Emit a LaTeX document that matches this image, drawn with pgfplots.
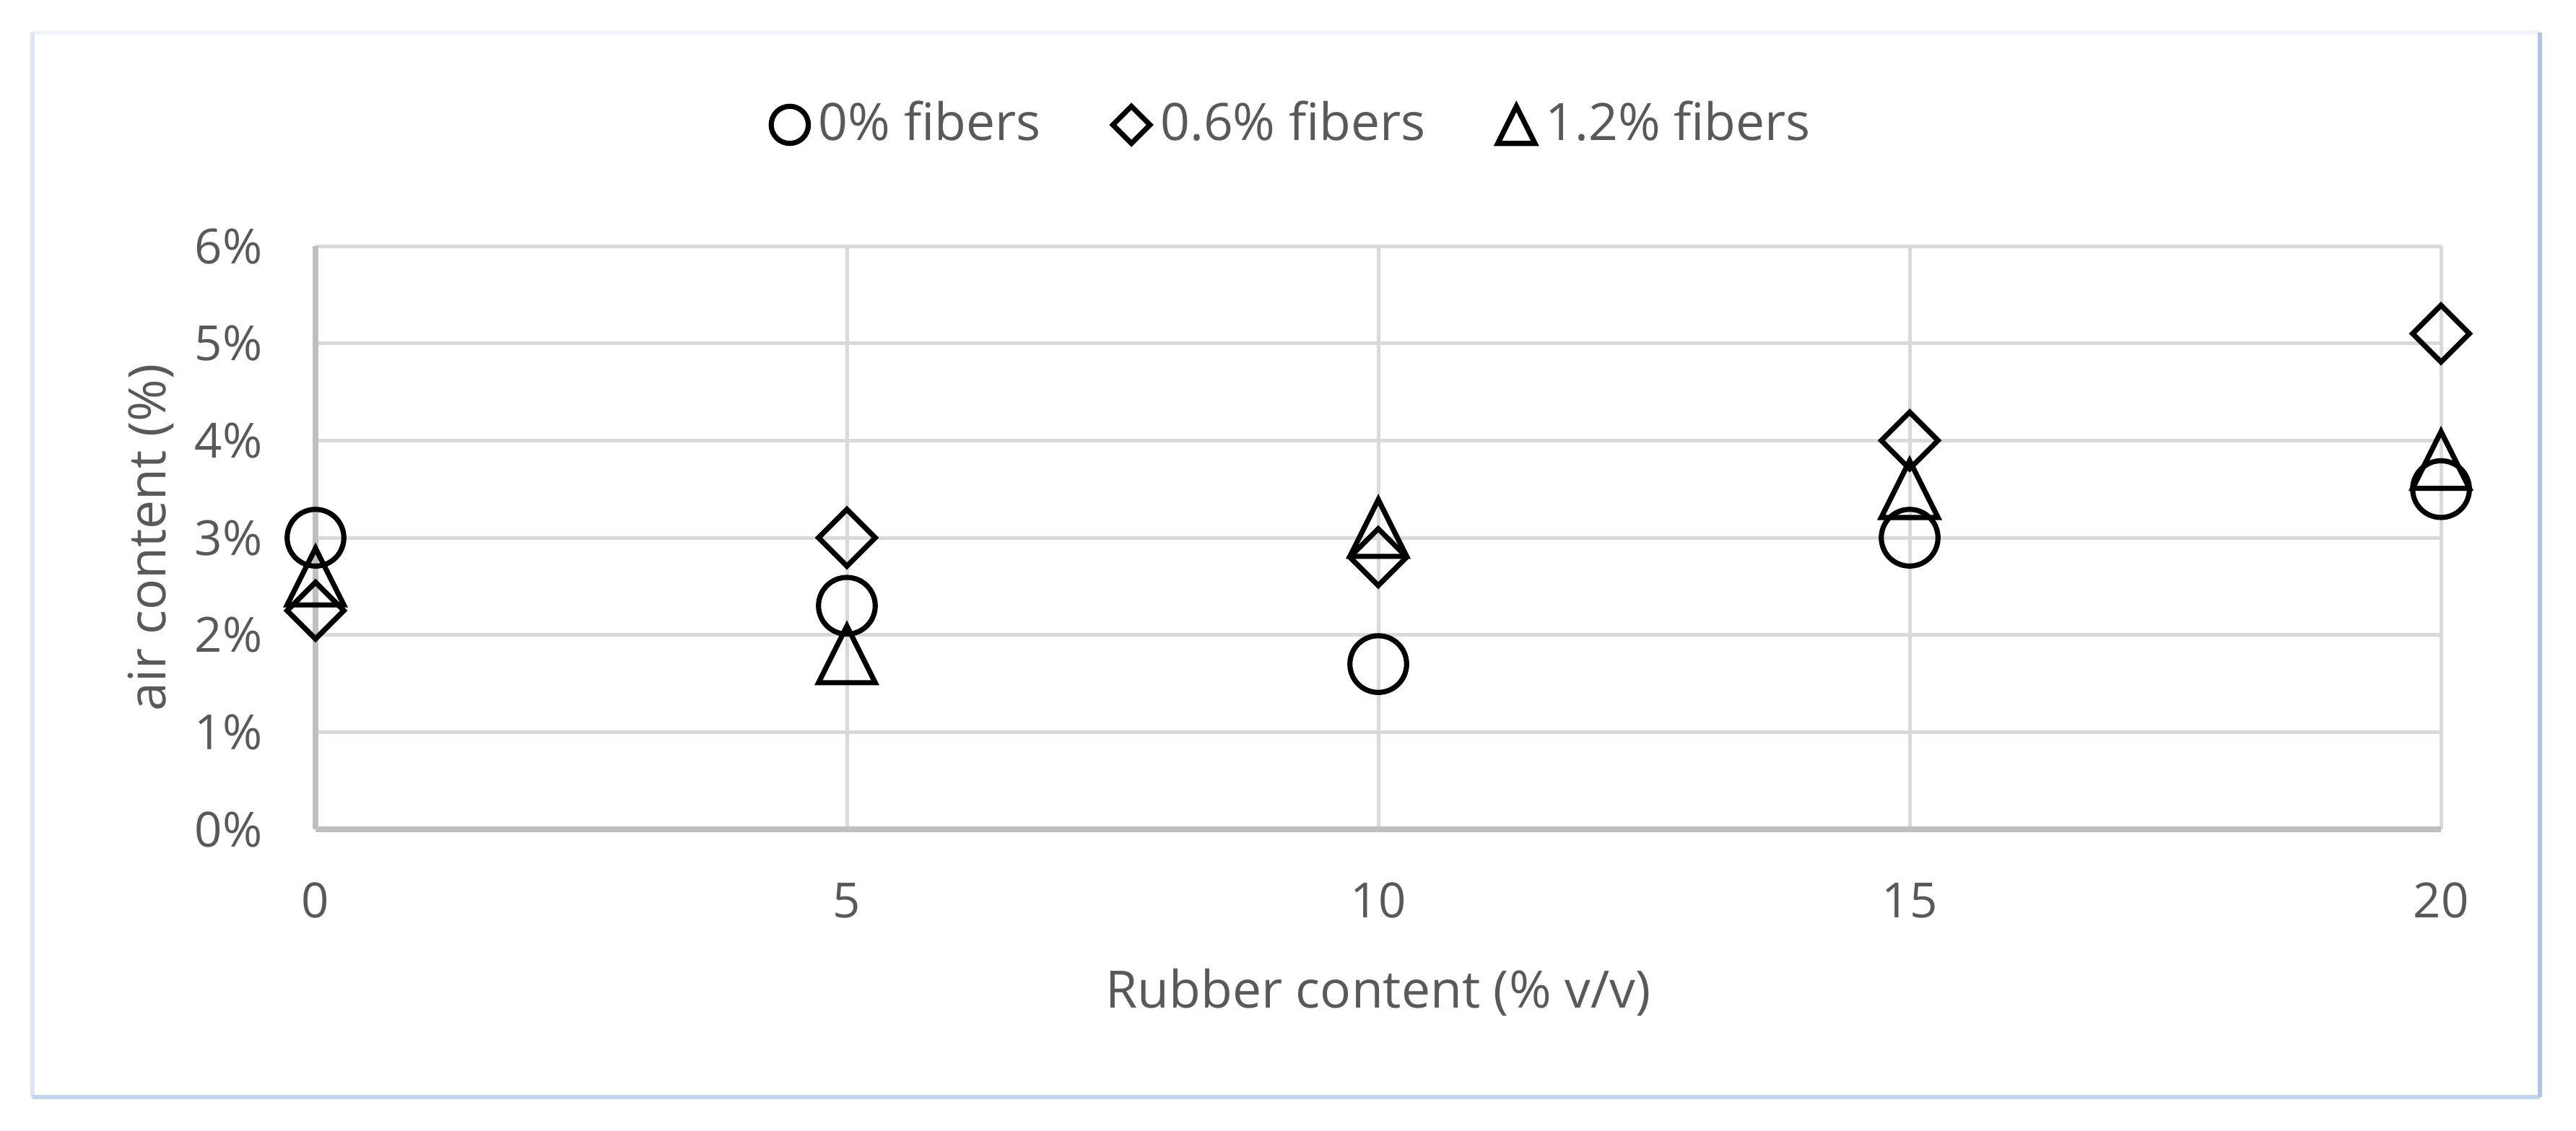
\documentclass[border=0pt]{standalone}
\usepackage{fontspec}
\setmainfont{Open Sans}
\usepackage{pgfplots}
\pgfplotsset{compat=1.18}

\definecolor{txt}{HTML}{595959}
\definecolor{gridc}{HTML}{D9D9D9}
\definecolor{axc}{HTML}{BFBFBF}
\definecolor{frtop}{HTML}{F0F4FA}
\definecolor{frleft}{HTML}{DCE5F4}
\definecolor{frbot}{HTML}{C5D4ED}
\definecolor{frright}{HTML}{AEC3E6}

% Excel-like diamond and triangle markers (box 2r x 2r)
\pgfdeclareplotmark{xdia}{%
  \pgfpathmoveto{\pgfqpoint{0pt}{\pgfplotmarksize}}%
  \pgfpathlineto{\pgfqpoint{\pgfplotmarksize}{0pt}}%
  \pgfpathlineto{\pgfqpoint{0pt}{-\pgfplotmarksize}}%
  \pgfpathlineto{\pgfqpoint{-\pgfplotmarksize}{0pt}}%
  \pgfpathclose\pgfusepathqstroke}
\pgfdeclareplotmark{xtri}{%
  \pgfpathmoveto{\pgfqpoint{0pt}{\pgfplotmarksize}}%
  \pgfpathlineto{\pgfqpoint{\pgfplotmarksize}{-\pgfplotmarksize}}%
  \pgfpathlineto{\pgfqpoint{-\pgfplotmarksize}{-\pgfplotmarksize}}%
  \pgfpathclose\pgfusepathqstroke}

\begin{document}
\begin{tikzpicture}
\begin{axis}[
    scale only axis, width=412.16pt, height=113.12pt,
    xmin=0, xmax=20, ymin=0, ymax=6,
    xtick={0,5,10,15,20}, ytick={0,1,2,3,4,5,6},
    clip=false,
    axis x line=bottom, axis y line=left,
    axis line style={-, draw=axc, line width=1pt},
    major tick length=0pt,
    grid=major, major grid style={draw=gridc, line width=0.7pt},
    /pgf/number format/assume math mode=true,
    yticklabel={\pgfmathprintnumber{\tick}\%},
    ticklabel style={font=\fontsize{9.4}{11}\selectfont, text=txt},
    xticklabel style={anchor=base, inner sep=0pt, yshift=-17.2pt},
    yticklabel style={anchor=east, inner sep=0pt, xshift=-10.1pt},
    xlabel={Rubber content (\% v/v)},
    ylabel={air content (\%)},
    label style={font=\fontsize{10}{12}\selectfont, text=txt},
    xlabel style={at={(axis description cs:0.5,0)}, anchor=base, yshift=-34.7pt},
    ylabel style={at={(axis description cs:-0.0774,0.5)}, anchor=center},
    legend columns=3,
    legend style={draw=none, at={(0.4613,1.208)}, anchor=center,
        font=\fontsize{10}{12}\selectfont, text=txt,
        /tikz/every even column/.append style={column sep=12pt},
        cells={anchor=west}},
    legend image code/.code={\draw[#1, mark size=3.6pt] plot coordinates {(0.12cm,0cm)};},
    every axis plot/.append style={only marks, line width=1pt, draw=black, fill=none},
]
\addplot[mark=o, mark size=5.5pt] coordinates {(0,3.0) (5,2.3) (10,1.7) (15,3.0) (20,3.5)};
\addlegendentry{0\% fibers}
\addplot[mark=xdia, mark size=5.5pt] coordinates {(0,2.25) (5,3.0) (10,2.8) (15,4.0) (20,5.1)};
\addlegendentry{0.6\% fibers}
\addplot[mark=xtri, mark size=5.5pt] coordinates {(0,2.6) (5,1.8) (10,3.1) (15,3.5) (20,3.8)};
\addlegendentry{1.2\% fibers}
\end{axis}
\draw[line width=0.84pt, draw=frtop] (-54.88pt,154.56pt) -- (431.34pt,154.56pt);
\draw[line width=0.84pt, draw=frleft] (-54.88pt,154.56pt) -- (-54.88pt,-51.94pt);
\draw[line width=0.84pt, draw=frbot] (-54.88pt,-51.94pt) -- (431.34pt,-51.94pt);
\draw[line width=0.84pt, draw=frright] (431.34pt,-51.94pt) -- (431.34pt,154.56pt);
\pgfresetboundingbox
\path (-61.18pt,-58.38pt) rectangle (438.34pt,160.86pt);
\end{tikzpicture}
\end{document}
